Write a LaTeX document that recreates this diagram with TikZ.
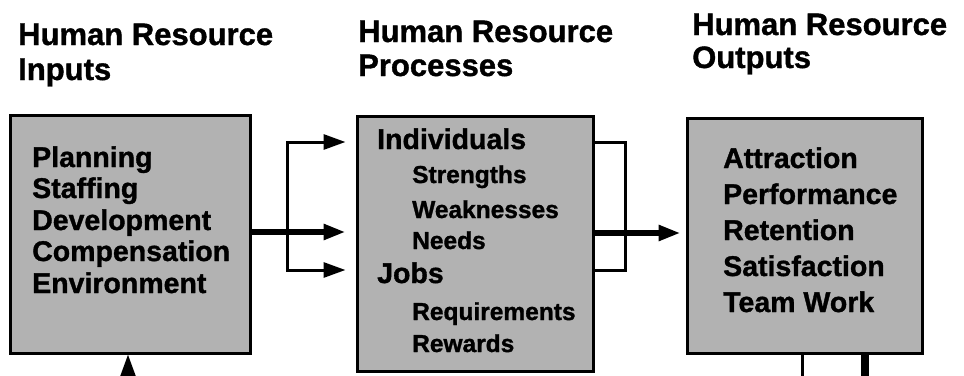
\documentclass[tikz,border=0pt]{standalone}
\usepackage{xcolor}
\usepackage{fontspec}
\setmainfont{Liberation Sans}[BoldFeatures={FakeBold=1.2}]
\usetikzlibrary{arrows.meta}
\tikzset{
	hrbox/.style={draw, line width=3pt, fill=black!30, rectangle, inner sep=0pt},
	heading/.style={font=\fontsize{31}{35}\selectfont\bfseries, anchor=base west, inner sep=0pt},
	item/.style={font=\fontsize{28.5}{32}\selectfont\bfseries, anchor=base west, inner sep=0pt},
	subitem/.style={font=\fontsize{24.5}{28}\selectfont\bfseries, anchor=base west, inner sep=0pt},
	thinflow/.style={line width=3pt},
	thickflow/.style={line width=6pt},
	bigtip/.style={-{Triangle[length=22pt,width=15pt]}}
}
\begin{document}
\begin{tikzpicture}[x=1pt,y=-1pt]
				\useasboundingbox (0,0) rectangle (964,375);
				\node[heading] (inhead) at (18,45) {Human Resource};
				\node[heading] (inhead2) at (18,80) {Inputs};
				\node[heading] (prochead) at (358,42) {Human Resource};
				\node[heading] (prochead2) at (358,76) {Processes};
				\node[heading] (outhead) at (692,35) {Human Resource};
				\node[heading] (outhead2) at (692,68) {Outputs};
				\node[hrbox, minimum width=240pt, minimum height=238pt] (inbox) at (130,234) {};
				\node[item] (plan) at (32,167) {Planning};
				\node[item] (staff) at (32,198) {Staffing};
				\node[item] (devel) at (32,230) {Development};
				\node[item] (comp) at (32,261) {Compensation};
				\node[item] (envir) at (32,293) {Environment};
				\node[hrbox, minimum width=236pt, minimum height=255pt] (procbox) at (475,243.5) {};
				\node[item] (indiv) at (377,149) {Individuals};
				\node[subitem] (strength) at (412,183) {Strengths};
				\node[subitem] (weak) at (412,218) {Weaknesses};
				\node[subitem] (needs) at (412,249) {Needs};
				\node[item] (jobs) at (377,283) {Jobs};
				\node[subitem] (req) at (412,320) {Requirements};
				\node[subitem] (reward) at (412,352) {Rewards};
				\node[hrbox, minimum width=235pt, minimum height=235pt] (outbox) at (804.5,235.5) {};
				\node[item] (attr) at (723,168) {Attraction};
				\node[item] (perf) at (723,204) {Performance};
				\node[item] (reten) at (723,240) {Retention};
				\node[item] (satis) at (723,276) {Satisfaction};
				\node[item] (team) at (723,312) {Team Work};
				\coordinate (fork) at (287,232);
				\coordinate (join) at (625,233);
				\coordinate (feedin) at (128,400);
				\coordinate (fbthin) at (802,400);
				\coordinate (fbthick) at (865,400);
				\draw[thinflow, {Triangle[length=22pt,width=15pt]}-{Triangle[length=22pt,width=15pt]}] ([xshift=-10pt]procbox.west |- 0,142) -| (fork) |- ([xshift=-10pt]procbox.west |- 0,270);
				\draw[thickflow, bigtip] (inbox.east |- fork) -- ([xshift=-10pt]procbox.west |- fork);
				\draw[thinflow] (procbox.east |- 0,142) -| (join) |- (procbox.east |- 0,270);
				\draw[thickflow, bigtip] (procbox.east |- join) -- ([xshift=-5pt]outbox.west |- join);
				\draw[thinflow, bigtip] (feedin) -- (inbox.south -| feedin);
				\draw[thinflow] (outbox.south -| fbthin) -- (fbthin);
				\draw[line width=8pt] (outbox.south -| fbthick) -- (fbthick);
			\end{tikzpicture}
\end{document}
